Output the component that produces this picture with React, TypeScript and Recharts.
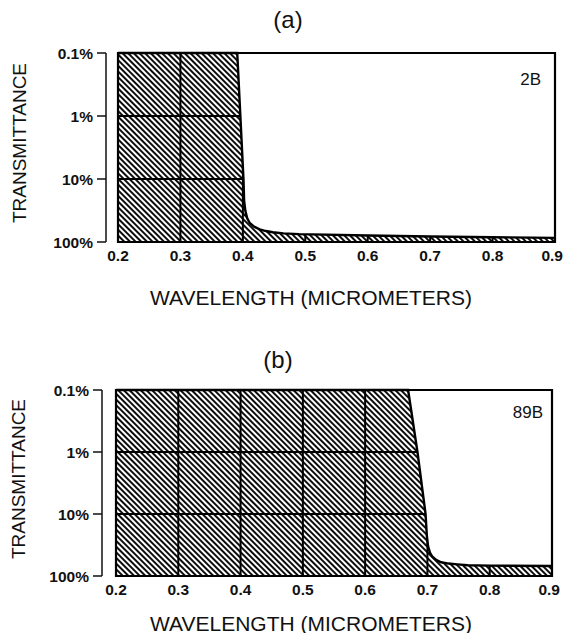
import React from 'react';
import { ComposedChart, Area, Line, XAxis, YAxis, CartesianGrid, ReferenceArea } from 'recharts';

// ---- data ----
const WAVELENGTH_TICKS = [0.2, 0.3, 0.4, 0.5, 0.6, 0.7, 0.8, 0.9];
const TRANSMITTANCE_TICK_LABELS = ['100%', '10%', '1%', '0.1%']; // density 0,1,2,3
const DENSITY_TICKS = [0, 1, 2, 3];
const MAX_DENSITY = 3;

// Filter 2B (panel a): wavelength (µm) and transmittance (%)
const FILTER_2B_WAVELENGTH = [0.2, 0.391, 0.396, 0.401, 0.402, 0.404, 0.407, 0.411, 0.418, 0.427, 0.437, 0.448, 0.465, 0.49, 0.6, 0.7, 0.8, 0.9];
const FILTER_2B_TRANSMITTANCE = [0.1, 0.1, 1, 10, 22, 32, 42, 50, 57, 63, 67, 70, 73, 75, 79, 82, 84, 86];

// Filter 89B (panel b)
const FILTER_89B_WAVELENGTH = [0.2, 0.669, 0.684, 0.697, 0.699, 0.701, 0.704, 0.708, 0.714, 0.722, 0.734, 0.748, 0.765, 0.8, 0.9];
const FILTER_89B_TRANSMITTANCE = [0.1, 0.1, 1, 10, 22, 33, 42, 49, 55, 60, 63, 65, 67, 68, 69];

const FONT = '"Liberation Sans", Arial, Helvetica, sans-serif';
const INK = '#111';

function buildRows(wl: number[], tr: number[]) {
  return wl.map((x, i) => {
    const d = Math.min(MAX_DENSITY, Math.max(0, -Math.log10(tr[i] / 100)));
    return { wl: x, d, rest: Math.max(0, MAX_DENSITY - d) };
  });
}

const XTick = (props: any) => {
  const { x, y, payload, index, visibleTicksCount } = props;
  const last = index === (visibleTicksCount ?? WAVELENGTH_TICKS.length) - 1;
  return (
    <text
      x={last ? x + 8 : x}
      y={y}
      dy="0.71em"
      textAnchor={last ? 'end' : 'middle'}
      fill={INK}
      fontSize={15.5}
      fontWeight={700}
      fontFamily={FONT}
    >
      {Number(payload.value).toFixed(1)}
    </text>
  );
};

type PanelProps = {
  rows: { wl: number; d: number; rest: number }[];
  top: number;
  height: number;
  margin: { top: number; right: number; bottom: number; left: number };
  gap: number;
  axisW: number;
  patternId: string;
};

function Panel({ rows, top, height, margin, gap, axisW, patternId }: PanelProps) {
  return (
    <div style={{ position: 'absolute', left: 0, top, width: 563, height }}>
      <ComposedChart width={563} height={height} data={rows} margin={margin}>
        <defs>
          <pattern id={patternId} patternUnits="userSpaceOnUse" width={4} height={4} patternTransform="rotate(-45)">
            <line x1={1} y1={-1} x2={1} y2={5} stroke="#000" strokeWidth={1.9} />
          </pattern>
        </defs>
        <CartesianGrid yAxisId="main" stroke="#000" strokeWidth={2} />
        <XAxis
          dataKey="wl"
          type="number"
          domain={[0.2, 0.9]}
          ticks={WAVELENGTH_TICKS}
          interval={0}
          axisLine={false}
          tickLine={false}
          height={30}
          tick={<XTick />}
        />
        <YAxis yAxisId="gap" width={gap} domain={[0, MAX_DENSITY]} tick={false} axisLine={false} tickLine={false} />
        <YAxis
          yAxisId="main"
          width={axisW}
          type="number"
          domain={[0, MAX_DENSITY]}
          ticks={DENSITY_TICKS}
          interval={0}
          tickFormatter={(v: number) => TRANSMITTANCE_TICK_LABELS[v]}
          axisLine={{ stroke: INK, strokeWidth: 1.5 }}
          tickLine={{ stroke: INK, strokeWidth: 1.5 }}
          tickSize={9}
          tickMargin={4}
          tick={{ fill: INK, fontSize: 15.5, fontWeight: 700, fontFamily: FONT }}
        />
        <Area yAxisId="main" dataKey="d" stackId="s" type="linear" fill={`url(#${patternId})`} fillOpacity={1} stroke="none" isAnimationActive={false} />
        <Area yAxisId="main" dataKey="rest" stackId="s" type="linear" fill="#fff" fillOpacity={1} stroke="none" isAnimationActive={false} />
        <Line yAxisId="main" dataKey="d" type="linear" stroke="#000" strokeWidth={2.4} dot={false} isAnimationActive={false} />
        <ReferenceArea yAxisId="main" x1={0.2} x2={0.9} y1={0} y2={MAX_DENSITY} fill="none" fillOpacity={0} stroke="#000" strokeWidth={2.2} ifOverflow="visible" />
      </ComposedChart>
    </div>
  );
}

const rowsA = buildRows(FILTER_2B_WAVELENGTH, FILTER_2B_TRANSMITTANCE);
const rowsB = buildRows(FILTER_89B_WAVELENGTH, FILTER_89B_TRANSMITTANCE);

export default function App() {
  const textStyle = { fontFamily: FONT, fill: INK } as const;
  return (
    <div style={{ position: 'absolute', left: 0, top: 0, width: 563, height: 633, background: '#fff' }}>
      <Panel rows={rowsA} top={0} height={320} margin={{ top: 53, right: 8, bottom: 48, left: 0 }} gap={12} axisW={106} patternId="hatchA" />
      <Panel rows={rowsB} top={330} height={303} margin={{ top: 60, right: 11, bottom: 27, left: 0 }} gap={14} axisW={102} patternId="hatchB" />
      <svg width={563} height={633} style={{ position: 'absolute', left: 0, top: 0, pointerEvents: 'none' }}>
        <text x={288} y={19} textAnchor="middle" dominantBaseline="central" fontSize={24} style={textStyle}>(a)</text>
        <text x={541} y={79} textAnchor="end" dominantBaseline="central" fontSize={17} style={textStyle}>2B</text>
        <text transform="translate(19,143) rotate(-90)" textAnchor="middle" dominantBaseline="central" fontSize={19} style={textStyle}>TRANSMITTANCE</text>
        <text x={311} y={297} textAnchor="middle" dominantBaseline="central" fontSize={21} style={textStyle}>WAVELENGTH (MICROMETERS)</text>
        <text x={278} y={359} textAnchor="middle" dominantBaseline="central" fontSize={24} style={textStyle}>(b)</text>
        <text x={543} y={412} textAnchor="end" dominantBaseline="central" fontSize={17} style={textStyle}>89B</text>
        <text transform="translate(18,479) rotate(-90)" textAnchor="middle" dominantBaseline="central" fontSize={19} style={textStyle}>TRANSMITTANCE</text>
        <text x={311} y={623} textAnchor="middle" dominantBaseline="central" fontSize={21} style={textStyle}>WAVELENGTH (MICROMETERS)</text>
      </svg>
    </div>
  );
}
